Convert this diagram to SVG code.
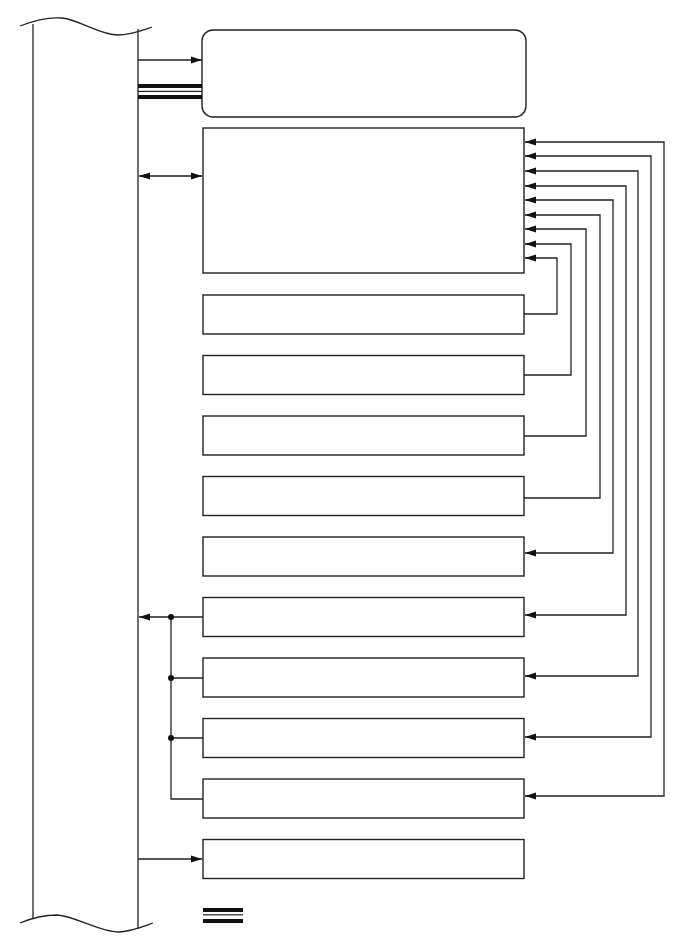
<svg xmlns="http://www.w3.org/2000/svg" width="688" height="949" viewBox="0 0 688 949">
<style>
.n{fill:#fff;stroke:#222;stroke-width:1.4}
.c{fill:none;stroke:#222;stroke-width:1.3}
.dot{fill:#111}
</style>
<defs>
<marker id="ah" markerUnits="userSpaceOnUse" markerWidth="12" markerHeight="8" refX="11" refY="4" orient="auto-start-reverse" viewBox="0 0 12 8">
<path d="M0,0.5 L11,4 L0,7.5 z" fill="#111"/>
</marker>
</defs>
<rect width="688" height="949" fill="#fff"/>
<g id="bus">
<path class="c" d="M33,24 L33,919 M138,29 L138,929"/>
<path class="c" d="M20,26 C35,20 50,17 62,18 C80,20 100,35 118,35 C130,35 140,31 152,27"/>
<path class="c" d="M20,923 C32,918 45,915 57,915 C75,916 100,932 118,932 C130,932 142,927 153,923"/>
</g>
<g id="node1"><rect class="n" x="202" y="30" width="324" height="87" rx="11"/></g>
<g id="node2"><rect class="n" x="203" y="128" width="321" height="145"/></g>
<g id="node3"><rect class="n" x="203" y="295" width="321" height="39"/></g>
<g id="node4"><rect class="n" x="203" y="355.5" width="321" height="39"/></g>
<g id="node5"><rect class="n" x="203" y="416" width="321" height="39"/></g>
<g id="node6"><rect class="n" x="203" y="476.5" width="321" height="39"/></g>
<g id="node7"><rect class="n" x="203" y="537" width="321" height="39"/></g>
<g id="node8"><rect class="n" x="203" y="597.5" width="321" height="39"/></g>
<g id="node9"><rect class="n" x="203" y="658" width="321" height="39"/></g>
<g id="node10"><rect class="n" x="203" y="718.5" width="321" height="39"/></g>
<g id="node11"><rect class="n" x="203" y="779" width="321" height="39"/></g>
<g id="node12"><rect class="n" x="203" y="839.5" width="321" height="39"/></g>
<g id="connectors">
<path class="c" d="M138,60 L202,60" marker-end="url(#ah)"/>
<rect x="138" y="84" width="64" height="4" fill="#111"/>
<rect x="138" y="90.8" width="64" height="1.2" fill="#222"/>
<rect x="138" y="95" width="64" height="4" fill="#111"/>
<path class="c" d="M139,176 L202,176" marker-start="url(#ah)" marker-end="url(#ah)"/>
<path class="c" d="M524,314 L557,314 L557,258 L525,258" marker-end="url(#ah)"/>
<path class="c" d="M524,375 L571,375 L571,244 L525,244" marker-end="url(#ah)"/>
<path class="c" d="M524,436 L586,436 L586,229 L525,229" marker-end="url(#ah)"/>
<path class="c" d="M524,498 L600,498 L600,215 L525,215" marker-end="url(#ah)"/>
<path class="c" d="M525,553 L613,553 L613,200 L525,200" marker-start="url(#ah)" marker-end="url(#ah)"/>
<path class="c" d="M525,615 L626,615 L626,186 L525,186" marker-start="url(#ah)" marker-end="url(#ah)"/>
<path class="c" d="M525,676 L638,676 L638,171 L525,171" marker-start="url(#ah)" marker-end="url(#ah)"/>
<path class="c" d="M525,737 L651,737 L651,156 L525,156" marker-start="url(#ah)" marker-end="url(#ah)"/>
<path class="c" d="M525,796 L664,796 L664,142 L525,142" marker-start="url(#ah)" marker-end="url(#ah)"/>
<path class="c" d="M203,617 L139,617" marker-end="url(#ah)"/>
<path class="c" d="M171,617 L171,799 L203,799 M171,678 L203,678 M171,738 L203,738"/>
<circle class="dot" cx="171" cy="617" r="3"/>
<circle class="dot" cx="171" cy="678" r="3"/>
<circle class="dot" cx="171" cy="738" r="3"/>
<path class="c" d="M138,859 L202,859" marker-end="url(#ah)"/>
</g>
<g id="legend">
<rect x="203" y="908" width="40" height="4" fill="#111"/>
<rect x="203" y="914.2" width="40" height="1.2" fill="#222"/>
<rect x="203" y="919" width="40" height="4" fill="#111"/>
</g>
</svg>
